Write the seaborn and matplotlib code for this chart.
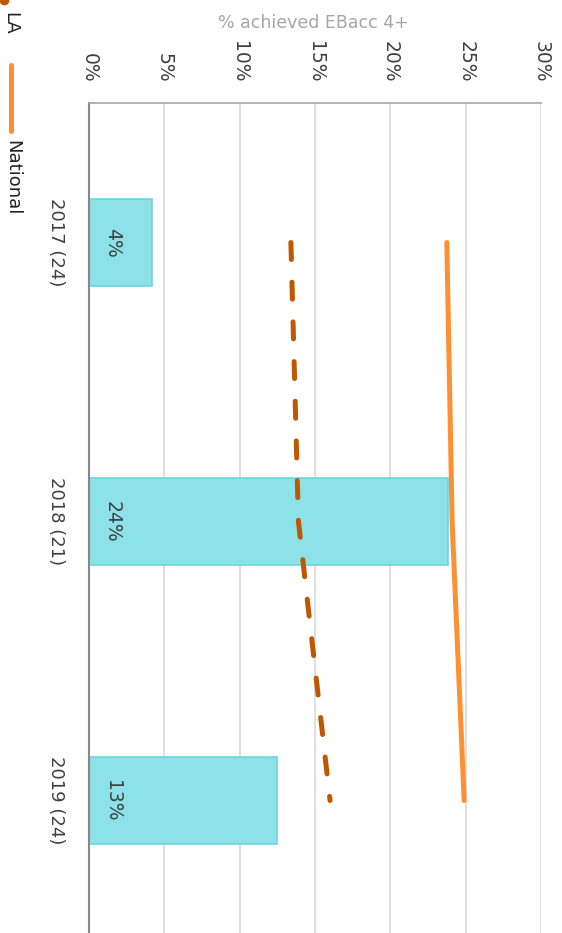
import matplotlib
matplotlib.use("Agg")
import matplotlib.pyplot as plt
from matplotlib.lines import Line2D
import seaborn as sns
import pandas as pd
import numpy as np

categories = ["2017 (24)", "2018 (21)", "2019 (24)"]
school_pct = [4.2, 23.8, 12.5]
la_pct = [13.4, 13.9, 16.0]
national_pct = [23.75, 24.1, 24.9]
bar_labels = ["4%", "24%", "13%"]
x_ticks = [0, 5, 10, 15, 20, 25, 30]
x_tick_labels = ["0%", "5%", "10%", "15%", "20%", "25%", "30%"]

sns.set_theme(style="white")
plt.rcParams['font.family'] = ['DejaVu Sans']

fig = plt.figure(figsize=(5.62, 9.33), dpi=100)
ax = fig.add_axes([89/562, 1 - 940/933, (541-89)/562, (940-103)/933])

df = pd.DataFrame({"cat": categories, "val": school_pct})
sns.barplot(data=df, x="val", y="cat", orient="h", ax=ax, width=0.315,
            color="#8CE2E8", saturation=1, edgecolor="#6DD6DE", linewidth=1.2, zorder=2)

pos = np.arange(len(categories))
sns.lineplot(x=national_pct, y=pos, orient="y", sort=False, ax=ax, color="#FF8F33",
             linewidth=3.6, zorder=3, estimator=None)
sns.lineplot(x=la_pct, y=pos, orient="y", sort=False, ax=ax, color="#C05700",
             linewidth=3.6, zorder=3, estimator=None, dashes=False)
la_line = ax.lines[-1]
la_line.set_dashes((3.4, 4.54))
la_line.set_dash_capstyle("round")
for ln in ax.lines:
    ln.set_solid_capstyle("round")

ax.set_xlim(0, 30)
ax.set_ylim(2.5, -0.5)
ax.set_xticks(x_ticks)
ax.set_xticklabels(x_tick_labels, rotation=270, fontsize=13.5, color="#404040")
ax.xaxis.tick_top()
ax.tick_params(axis="x", length=0, pad=15)
ax.set_yticks(pos)
ax.set_yticklabels(categories, rotation=270, fontsize=13, color="#404040", va="center")
ax.tick_params(axis="y", length=0, pad=17)
ax.set_xlabel("")
ax.set_ylabel("")
ax.grid(axis="x", color="#D9D9D9", linewidth=1.2, zorder=0)
ax.set_axisbelow(True)
for s in ["right", "bottom"]:
    ax.spines[s].set_visible(False)
ax.spines["left"].set_color("#888888")
ax.spines["left"].set_linewidth(1.5)
ax.spines["top"].set_color("#A6A6A6")
ax.spines["top"].set_linewidth(1.2)

for i, (v, lab) in enumerate(zip(school_pct, bar_labels)):
    ax.text(1.55, i, lab, rotation=270, ha="center", va="center", fontsize=13.5, color="#404040", zorder=4)

fig.text(313/562, 1 - 23/933, "% achieved EBacc 4+", ha="center", va="center",
         fontsize=12.5, color="#A6A6A6")

# legend (rotated)
fig.add_artist(Line2D([4/562], [1 - 0/933], marker="o", markersize=6, color="#C05700",
                      transform=fig.transFigure))
fig.text(10/562, 1 - 23/933, "LA", rotation=270, ha="center", va="center", fontsize=13, color="#222222")
fig.add_artist(Line2D([10.5/562, 10.5/562], [1 - 65/933, 1 - 131/933], color="#FF8F33",
                      linewidth=3.6, solid_capstyle="round", transform=fig.transFigure))
fig.text(12/562, 1 - 178/933, "National", rotation=270, ha="center", va="center", fontsize=13, color="#222222")

fig.savefig("out.png", dpi=100)
